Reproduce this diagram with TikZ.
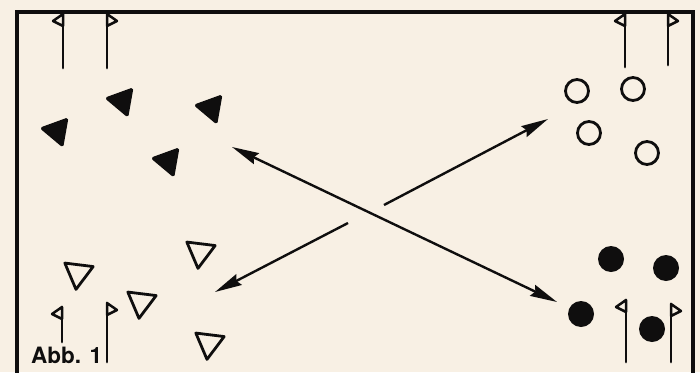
\documentclass[tikz,border=0pt]{standalone}
\usepackage{fontspec}
\setmainfont{TeX Gyre Heros}
\usetikzlibrary{shapes.geometric,arrows.meta}
\definecolor{paper}{RGB}{248,240,228}
\definecolor{ink}{RGB}{15,14,14}
\tikzset{
  frameline/.style={draw=ink,line width=3.2pt},
  pole/.style={draw=ink,line width=2.7pt,line cap=round},
  flagtri/.style={draw=ink,line width=2.5pt,line join=round},
  filltri/.style={regular polygon,regular polygon sides=3,fill=ink,draw=ink,line width=1.5pt,line join=round,inner sep=0pt,minimum size=33pt,rounded corners=1.5pt},
  opentri/.style={regular polygon,regular polygon sides=3,draw=ink,line width=2.8pt,line join=round,inner sep=0pt,minimum size=33pt},
  opencirc/.style={circle,draw=ink,line width=2.8pt,inner sep=0pt,minimum size=23pt},
  fillcirc/.style={circle,fill=ink,inner sep=0pt,minimum size=26pt},
  arr/.style={draw=ink,line width=2.4pt},
  head/.tip={Stealth[length=27pt,width=12pt,inset=3pt]},
  lbl/.style={inner sep=0pt,text=ink,font=\fontsize{22.5}{22}\selectfont\bfseries}
}
\newcommand{\flagpole}[4]{%
  \draw[pole] (#1,#3) -- (#1,#2);
  \draw[flagtri] (#1,#2) -- ++(#4*10,7) -- (#1,#2+12) -- cycle;}
\begin{document}
\begin{tikzpicture}[x=1pt,y=-1pt]
\fill[paper] (0,0) rectangle (700,372);
\useasboundingbox (0,0) rectangle (700,372);
% frame
\draw[frameline] (17,373) -- (17,12) -- (693,12) -- (693,373);
% flags
\flagpole{63}{14}{68}{-1}
\flagpole{107}{14}{68}{1}
\flagpole{625}{14}{67}{-1}
\flagpole{668}{14}{65}{1}
\flagpole{62}{307}{342}{-1}
\flagpole{107}{303}{362}{1}
\flagpole{626}{300}{362}{-1}
\flagpole{671}{304}{362}{1}
% filled triangles
\node[filltri,rotate=80] (t1) at (57,131) {};
\node[filltri,rotate=80] (t2) at (122,101) {};
\node[filltri,rotate=80] (t3) at (211,108) {};
\node[filltri,rotate=80] (t4) at (168,161) {};
% open triangles
\node[opentri,rotate=173] (o1) at (78,273) {};
\node[opentri,rotate=173] (o2) at (141,302) {};
\node[opentri,rotate=173] (o3) at (200,252) {};
\node[opentri,rotate=173] (o4) at (209,343) {};
% open circles
\node[opencirc] (c1) at (577,91) {};
\node[opencirc] (c2) at (633,89) {};
\node[opencirc] (c3) at (589,133) {};
\node[opencirc] (c4) at (647,153) {};
% filled circles
\node[fillcirc] (f1) at (611,259) {};
\node[fillcirc] (f2) at (666,268) {};
\node[fillcirc] (f3) at (581,314) {};
\node[fillcirc] (f4) at (652,329) {};
% arrows
\coordinate (a1) at (232,147);
\coordinate (a2) at (557,302);
\coordinate (b1) at (384,205);
\coordinate (b2) at (548,119);
\coordinate (d1) at (348,223);
\coordinate (d2) at (215,292);
\draw[arr,{head}-{head}] (a1) -- (a2);
\draw[arr,-{head}] (b1) -- (b2);
\draw[arr,-{head}] (d1) -- (d2);
% label
\node[lbl,anchor=base west] (lab) at (31,363) {Abb. 1};
\end{tikzpicture}
\end{document}
